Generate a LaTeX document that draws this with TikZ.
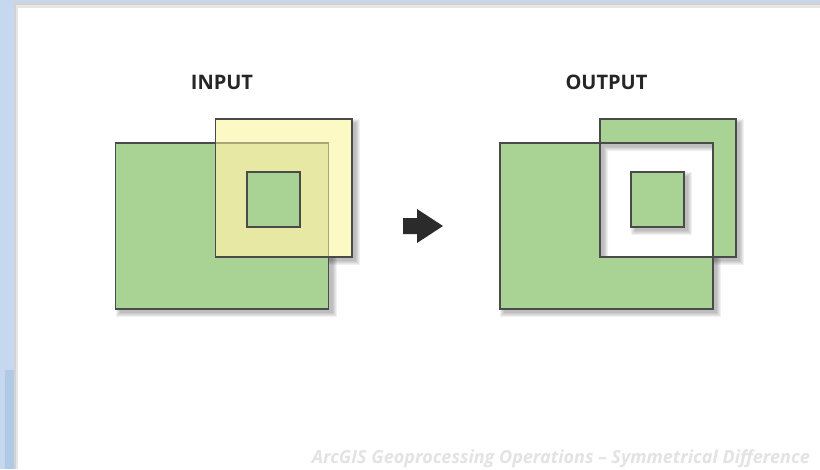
\documentclass[tikz,border=0pt]{standalone}
\usepackage{fontspec}
\setmainfont{Open Sans}
\definecolor{bluebg}{HTML}{C6D8EF}
\definecolor{bluedark}{HTML}{B0CAE6}
\definecolor{panelA}{HTML}{D2D2D2}
\definecolor{panelB}{HTML}{E6E6E6}
\definecolor{polygreen}{HTML}{A9D395}
\definecolor{polyyellow}{HTML}{FDF9C4}
\definecolor{polyoverlap}{HTML}{E7E8A3}
\definecolor{edgedark}{HTML}{4A4A4A}
\definecolor{edgefaint}{HTML}{A8A77A}
\definecolor{arrowdark}{HTML}{2B2B2B}
\definecolor{footgrey}{HTML}{E3E3E3}
\tikzset{
  edge/.style={draw=edgedark,line width=1.4pt,line join=miter},
  shadowlayer/.style={fill=black,opacity=0.055},
  title/.style={font=\fontsize{20}{24}\selectfont\bfseries,text=black!85,anchor=base},
}
\newcommand\softshadowrect[4]{%
  \foreach \e in {4,3,2,1,0}{%
    \fill[shadowlayer] ({#1+4-\e},{#2+4-\e}) rectangle ({#3+4+\e},{#4+4+\e});
  }}
\begin{document}
\begin{tikzpicture}[x=1pt,y=-1pt]
\useasboundingbox (0,0) rectangle (820,469);
% window background and panel
\fill[bluebg] (0,0) rectangle (820,469);
\fill[bluedark] (5,370) rectangle (14,469);
\fill[panelA] (14,2) rectangle (820,469);
\fill[panelB] (16,5) rectangle (820,469);
\fill[white] (18,8) rectangle (820,469);

% ---------------- INPUT ----------------
\softshadowrect{115.7}{143}{328.7}{309}
\softshadowrect{215.7}{119}{352}{257}
\fill[polygreen] (115.7,143) rectangle (328.7,309);
\fill[polyyellow] (215.7,119) rectangle (352,257);
\fill[polyoverlap] (215.7,143) rectangle (328.7,257);
\fill[polygreen] (247,172) rectangle (300,227);
\draw[edge] (115.7,143) rectangle (328.7,309);
\draw[draw=edgefaint,line width=1.4pt] (215.7,143) -- (328.7,143) -- (328.7,257);
\draw[edge] (215.7,119) rectangle (352,257);
\draw[edge] (247,172) rectangle (300,227);

% ---------------- ARROW ----------------
\fill[arrowdark] (403,218) -- (417,218) -- (417,209) -- (443,226) -- (417,243) -- (417,234) -- (403,234) -- cycle;

% ---------------- OUTPUT ----------------
\softshadowrect{500}{143}{713}{309}
\softshadowrect{600}{119}{736}{257}
\fill[white] (600,143) rectangle (713,257);
\begin{scope}
  \clip (600,143) rectangle (713,257);
  \foreach \e in {4,3,2,1,0}{%
    \fill[shadowlayer,even odd rule] (590,133) rectangle (723,267) ({604+\e},{147+\e}) rectangle (800,400);
  }
\end{scope}
\fill[polygreen,even odd rule] (500,143) rectangle (713,309) (600,119) rectangle (736,257);
\softshadowrect{631}{172}{684}{227}
\fill[polygreen] (631,172) rectangle (684,227);
\draw[edge] (500,143) rectangle (713,309);
\draw[edge] (600,119) rectangle (736,257);
\draw[edge] (631,172) rectangle (684,227);

% ---------------- TEXT ----------------
\node[title] (inlabel) at (222,89) {INPUT};
\node[title] (outlabel) at (606.5,89) {OUTPUT};
\node[anchor=base east,text=footgrey,inner sep=0pt] (footer) at (810,463)
  {\resizebox{498pt}{!}{\bfseries\itshape ArcGIS Geoprocessing Operations – Symmetrical Difference}};
\end{tikzpicture}
\end{document}
